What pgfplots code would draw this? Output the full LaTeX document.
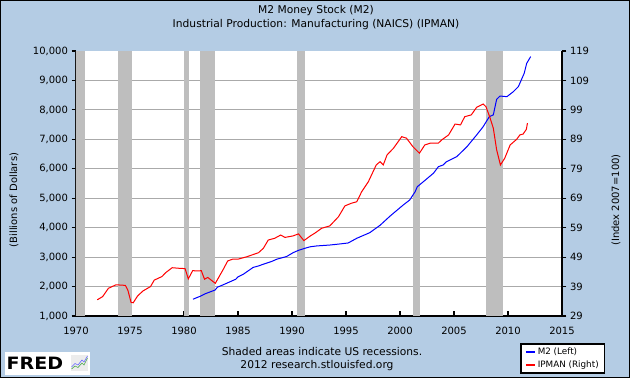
\documentclass[border=0pt]{standalone}
\usepackage{pgfplots}
\pgfplotsset{compat=1.18}
\usepackage{fontspec}
\setmainfont{DejaVu Sans}
\definecolor{fredbg}{RGB}{180,204,228}
\definecolor{recgray}{RGB}{190,190,190}
\definecolor{gridgray}{RGB}{170,170,170}
\begin{document}
\begin{tikzpicture}[x=1pt,y=1pt]
\fill[fredbg] (0,0) rectangle (630,378);
\draw[black, line width=1.2pt] (0.6,0.6) rectangle (629.4,377.4);
\node[font=\fontsize{10.7}{12}\selectfont] at (316,367) {M2 Money Stock (M2)};
\node[font=\fontsize{10.7}{12}\selectfont] at (316,353) {Industrial Production: Manufacturing (NAICS) (IPMAN)};
\node[font=\fontsize{10}{12}\selectfont, rotate=90] at (14,178) {(Billions of Dollars)};
\node[font=\fontsize{10}{12}\selectfont, rotate=90] at (616,178) {(Index 2007=100)};
\node[font=\fontsize{10.7}{12}\selectfont] at (322,26.5) {Shaded areas indicate US recessions.};
\node[font=\fontsize{10.7}{12}\selectfont] at (317,12.5) {2012 research.stlouisfed.org};
% FRED logo
\fill[white] (5,3) rectangle (90,25.5);
\node[anchor=west, inner sep=0pt, font=\fontsize{17}{17}\selectfont\bfseries, xscale=1.12] at (6.5,15) {FRED};
\fill[gray!15] (71,7) rectangle (88,23);
\draw[green!50!black!70, line width=0.6pt] (71.5,9) -- (75,12) -- (78,10.5) -- (82,15) -- (84,13) -- (87.5,20);
\draw[blue!60, line width=0.6pt] (71.5,11) -- (75,14.5) -- (78,13) -- (82,18) -- (84,16) -- (87.5,22);
\begin{axis}[
  at={(76pt,62pt)}, anchor=south west,
  scale only axis, width=486pt, height=265pt,
  xmin=1970, xmax=2015, ymin=1000, ymax=10000,
  axis x line*=bottom, axis y line*=left,
  axis line style={black, line width=1.4pt},
  xtick={1970,1975,1980,1985,1990,1995,2000,2005,2010,2015},
  ytick={1000,2000,3000,4000,5000,6000,7000,8000,9000},
  extra y ticks={10000}, extra y tick style={grid=none},
  ymajorgrids, major grid style={gridgray, line width=1pt},
  tick align=outside, major tick length=4.5pt,
  tick style={black, line width=1.2pt},
  xtick style={yshift=4.5pt},
  scaled y ticks=false,
  x tick label style={/pgf/number format/1000 sep={}, yshift=-3pt},
  y tick label style={/pgf/number format/1000 sep={,}},
  /pgf/number format/assume math mode=true,
  ticklabel style={font=\fontsize{10}{12}\selectfont},
  axis background/.style={fill=white},
]
\addplot[fill=recgray, draw=none] coordinates {(1969.92,1000) (1969.92,10000) (1970.87,10000) (1970.87,1000)} -- cycle;
\addplot[fill=recgray, draw=none] coordinates {(1973.87,1000) (1973.87,10000) (1975.2,10000) (1975.2,1000)} -- cycle;
\addplot[fill=recgray, draw=none] coordinates {(1980.0,1000) (1980.0,10000) (1980.5,10000) (1980.5,1000)} -- cycle;
\addplot[fill=recgray, draw=none] coordinates {(1981.5,1000) (1981.5,10000) (1982.87,10000) (1982.87,1000)} -- cycle;
\addplot[fill=recgray, draw=none] coordinates {(1990.5,1000) (1990.5,10000) (1991.2,10000) (1991.2,1000)} -- cycle;
\addplot[fill=recgray, draw=none] coordinates {(2001.2,1000) (2001.2,10000) (2001.87,10000) (2001.87,1000)} -- cycle;
\addplot[fill=recgray, draw=none] coordinates {(2007.92,1000) (2007.92,10000) (2009.5,10000) (2009.5,1000)} -- cycle;
\addplot[blue, line width=1pt] coordinates {
(1980.83,1570) (1981.5,1670) (1982.0,1760) (1982.5,1830) (1982.87,1880) (1983.1,1980) (1983.5,2040) (1984.0,2120) (1984.8,2250) (1985.0,2330) (1985.5,2420) (1986.4,2650) (1986.9,2700) (1987.2,2740) (1988.1,2850) (1988.6,2930) (1989.5,3020) (1990.1,3150) (1990.6,3230) (1991.2,3300) (1991.67,3350) (1992.3,3380) (1993.5,3410) (1994.5,3450) (1995.2,3480) (1996.0,3640) (1997.2,3830) (1998.15,4080) (1999.1,4400) (2000.3,4770) (2000.9,4940) (2001.4,5220) (2001.6,5390) (2002.16,5560) (2003.1,5850) (2003.55,6070) (2004.0,6130) (2004.3,6240) (2005.25,6410) (2006.2,6750) (2007.1,7150) (2007.7,7430) (2008.27,7770) (2008.64,7830) (2008.95,8360) (2009.26,8470) (2009.9,8450) (2010.5,8620) (2010.96,8790) (2011.3,9075) (2011.5,9240) (2011.73,9580) (2012.1,9810)
};
\end{axis}
\begin{axis}[
  at={(76pt,62pt)}, anchor=south west,
  scale only axis, width=486pt, height=265pt,
  xmin=1970, xmax=2015, ymin=29, ymax=119,
  axis y line*=right, axis x line=none,
  axis line style={black, line width=1.4pt},
  ytick={29,39,49,59,69,79,89,99,109,119},
  tick align=outside, major tick length=4.5pt,
  tick style={black, line width=1.2pt},
  /pgf/number format/assume math mode=true,
  ticklabel style={font=\fontsize{10}{12}\selectfont},
  legend style={at={(0.9136,-0.1019)}, anchor=north west, draw=black, line width=1.5pt, fill=white,
    font=\fontsize{8.8}{10}\selectfont, inner xsep=4pt, inner ysep=2pt, row sep=1pt},
  legend cell align=left,
  legend image code/.code={\draw[#1, line width=2pt] (0pt,0pt) -- (9pt,0pt);},
]
\addlegendimage{blue}
\addlegendentry{M2 (Left)}
\addplot[red, line width=1pt] coordinates {
(1971.97,34.5) (1972.47,35.6) (1973.0,38.4) (1973.7,39.6) (1974.57,39.4) (1974.8,37.8) (1975.1,33.6) (1975.3,33.5) (1975.7,35.8) (1976.2,37.5) (1976.9,39) (1977.25,41.2) (1977.96,42.4) (1978.3,43.7) (1978.9,45.4) (1979.57,45.2) (1980.1,45.1) (1980.4,41.6) (1980.8,44.4) (1981.27,44.3) (1981.6,44.4) (1981.9,41.5) (1982.2,42.1) (1982.9,40.1) (1983.6,44.6) (1984.05,47.7) (1984.5,48.3) (1985.0,48.3) (1985.8,49.1) (1986.9,50.5) (1987.35,52) (1987.8,54.8) (1988.4,55.4) (1988.95,56.5) (1989.35,55.7) (1990.1,56.2) (1990.6,56.9) (1991.1,54.6) (1991.7,56.2) (1992.1,57.1) (1992.75,58.8) (1993.5,59.6) (1994.3,62.7) (1994.9,66.4) (1995.5,67.3) (1996.0,67.8) (1996.45,71.2) (1997.07,74.6) (1997.8,80.3) (1998.15,81.4) (1998.45,80.3) (1998.8,83.7) (1999.4,86) (2000.16,89.9) (2000.6,89.4) (2001.2,86.5) (2001.8,84.3) (2002.3,87.1) (2002.8,87.7) (2003.55,87.7) (2003.86,88.8) (2004.5,90.5) (2005.1,94.2) (2005.6,93.9) (2006.0,96.7) (2006.6,97.3) (2007.1,99.9) (2007.7,101) (2007.96,100.1) (2008.3,96.7) (2008.64,92.8) (2008.95,85.4) (2009.3,80.3) (2009.7,82.6) (2010.2,87.1) (2010.8,89.0) (2011.1,90.5) (2011.4,90.8) (2011.7,92.4) (2011.8,94.5)
};
\addlegendentry{IPMAN (Right)}
\end{axis}
\end{tikzpicture}
\end{document}
